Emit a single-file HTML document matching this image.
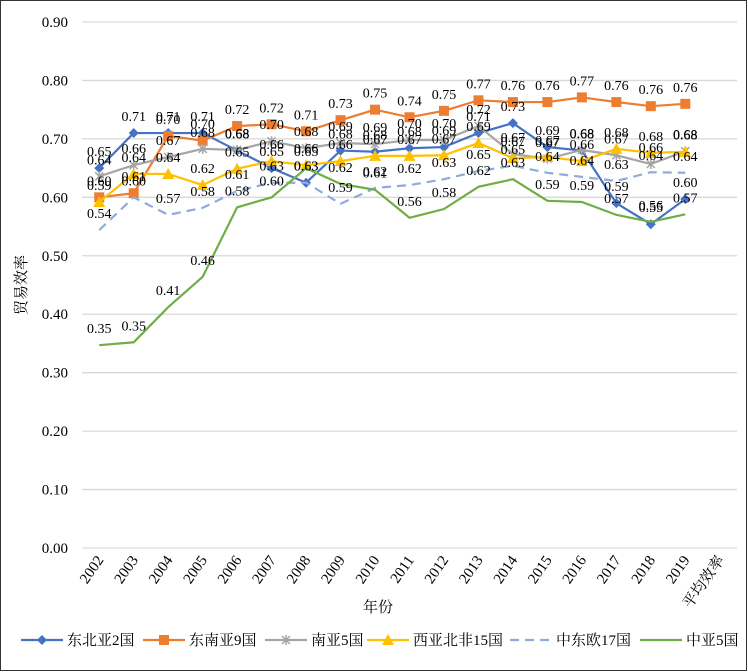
<!DOCTYPE html>
<html><head><meta charset="utf-8"><style>
body{margin:0;background:#fff;}
svg{display:block;font-family:"Liberation Serif","Noto Serif CJK SC",serif;}
</style></head><body>
<svg id="chart" width="748" height="672" xmlns="http://www.w3.org/2000/svg">
<rect x="0.5" y="0.5" width="746" height="670" fill="#fff" stroke="#333"/>
<g id="grid"></g><g id="axes"></g><g id="series"></g><g id="labels"></g><g id="legend"></g>
</svg>
<script>
const categories=["2002","2003","2004","2005","2006","2007","2008","2009","2010","2011","2012","2013","2014","2015","2016","2017","2018","2019","平均效率"];
const yTicks=[0,0.1,0.2,0.3,0.4,0.5,0.6,0.7,0.8,0.9];
const seriesNames=["东北亚2国","东南亚9国","南亚5国","西亚北非15国","中东欧17国","中亚5国"];
const neAsia=[0.65,0.71,0.71,0.71,0.68,0.65,0.625,0.68,0.678,0.684,0.686,0.71,0.727,0.686,0.68,0.59,0.554,0.597];
const seAsia=[0.60,0.607,0.705,0.697,0.722,0.725,0.713,0.732,0.75,0.737,0.748,0.766,0.763,0.763,0.771,0.763,0.756,0.76];
const sAsia=[0.636,0.655,0.669,0.683,0.681,0.696,0.684,0.693,0.691,0.698,0.698,0.722,0.674,0.666,0.681,0.672,0.657,0.679];
const waNa=[0.592,0.64,0.64,0.621,0.649,0.662,0.655,0.662,0.671,0.671,0.672,0.693,0.667,0.669,0.662,0.683,0.676,0.678];
const cee=[0.544,0.60,0.57,0.582,0.611,0.625,0.625,0.589,0.616,0.621,0.631,0.645,0.654,0.642,0.635,0.628,0.643,0.642];
const cAsia=[0.347,0.352,0.412,0.464,0.583,0.60,0.65,0.623,0.613,0.565,0.58,0.618,0.631,0.594,0.592,0.57,0.558,0.571];
const NS="http://www.w3.org/2000/svg";
const X0=82,X1=737,Y0=548,Y9=22;
const band=(X1-X0)/categories.length;
const xs=i=>X0+band*(i+0.5);
const ys=v=>Y0-(v/0.9)*(Y0-Y9);
function mk(t,a,p){const e=document.createElementNS(NS,t);for(const k in a)e.setAttribute(k,a[k]);p.appendChild(e);return e;}
const grid=document.getElementById('grid'),axes=document.getElementById('axes'),S=document.getElementById('series'),L=document.getElementById('labels'),LG=document.getElementById('legend');
yTicks.forEach(v=>{
 const l=mk('line',{x1:X0,x2:X1,y1:ys(v),y2:ys(v),stroke:'#d9d9d9','stroke-width':1.3},grid);
 
 
 const t=mk('text',{x:68,y:ys(v)+5,'text-anchor':'end','font-size':15,fill:'#000'},axes);
 t.textContent=v.toFixed(2);
 
 
});
categories.forEach((c,i)=>{
 const x=xs(i)+5,y=560;
 const t=mk('text',{x:x,y:y,'text-anchor':'end','font-size':15,fill:'#000',transform:`rotate(-55 ${x} ${y})`},axes);
 t.textContent=c;
 
 
});
let t=mk('text',{x:378,y:612,'text-anchor':'middle','font-size':15},axes);t.textContent='年份';


t=mk('text',{x:26,y:285,'text-anchor':'middle','font-size':15,transform:'rotate(-90 26 285)'},axes);t.textContent='贸易效率';


const data=[neAsia,seAsia,sAsia,waNa,cee,cAsia];
const colors=['#4472c4','#ed7d31','#a5a5a5','#ffc000','#8faadc','#70ad47'];
const markers=['diamond','square','star','triangle',null,null];
function marker(type,x,y,c,p){
 if(type==='diamond')return mk('polygon',{points:`${x},${y-5} ${x+5},${y} ${x},${y+5} ${x-5},${y}`,fill:c},p);
 if(type==='square')return mk('rect',{x:x-5,y:y-5,width:10,height:10,fill:c},p);
 if(type==='triangle')return mk('polygon',{points:`${x},${y-6} ${x+6},${y+5} ${x-6},${y+5}`,fill:c},p);
 if(type==='star')return mk('path',{d:`M${x-4},${y-4}L${x+4},${y+4}M${x-4},${y+4}L${x+4},${y-4}M${x},${y-5}L${x},${y+5}`,stroke:c,'stroke-width':1.5,fill:'none'},p);
}
data.forEach((arr,s)=>{
 const pts=arr.map((v,i)=>`${xs(i)},${ys(v)}`).join(' ');
 const pl=mk('polyline',{points:pts,fill:'none',stroke:colors[s],'stroke-width':2.2,'stroke-dasharray':s===4?'9,6':'none'},S);
 
 
 arr.forEach((v,i)=>{
  if(markers[s]){const m=marker(markers[s],xs(i),ys(v),colors[s],S);
   
   }
  const lb=mk('text',{x:xs(i),y:ys(v)-12,'text-anchor':'middle','font-size':14,fill:'#000'},L);
  lb.textContent=v.toFixed(2);
  
  
 });
});
const lx=[21,143,265,367,510,640];
seriesNames.forEach((n,s)=>{
 const g=mk('g',{},LG);
 
 
 mk('line',{x1:lx[s],x2:lx[s]+42,y1:640,y2:640,stroke:colors[s],'stroke-width':2.2,'stroke-dasharray':s===4?'9,6':'none'},g);
 if(markers[s])marker(markers[s],lx[s]+21,640,colors[s],g);
 const tx=mk('text',{x:lx[s]+46,y:645,'font-size':15},g);tx.textContent=n;
});
</script>
</body></html>
